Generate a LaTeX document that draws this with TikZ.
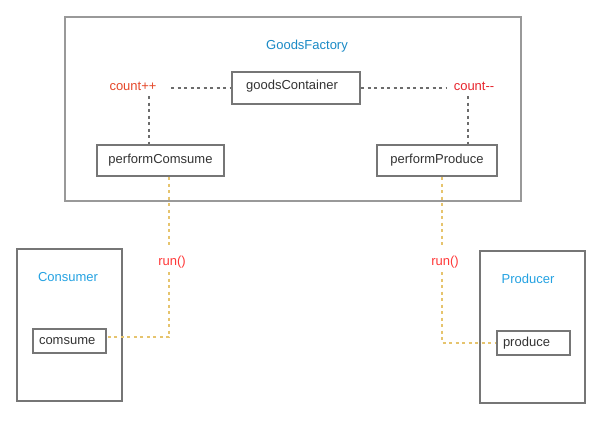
\documentclass[tikz,border=0pt]{standalone}
\usepackage{fontspec}
\setmainfont{Liberation Sans}
\begin{document}
\begin{tikzpicture}[x=1pt,y=-1pt,
  every node/.style={font=\fontsize{13}{15}\selectfont, text=txt},
  box/.style={draw=boxc, line width=2pt, rectangle, inner sep=0pt},
  outer/.style={draw=outc, line width=2pt, rectangle, inner sep=0pt},
  greydot/.style={draw=dotc, line width=2pt, dash pattern=on 3pt off 3.5pt},
  yeldot/.style={draw=yel, line width=2pt, dash pattern=on 3pt off 3.5pt},
  title/.style={text=bluea},
  title2/.style={text=blueb},
  lbl/.style={inner sep=1pt}
]
\definecolor{txt}{HTML}{333333}
\definecolor{boxc}{HTML}{767676}
\definecolor{outc}{HTML}{999999}
\definecolor{dotc}{HTML}{6C6C6C}
\definecolor{yel}{HTML}{E6C46E}
\definecolor{bluea}{HTML}{1A8AC6}
\definecolor{blueb}{HTML}{24A2E2}
\definecolor{orng}{HTML}{E5482A}
\definecolor{redd}{HTML}{E8262E}
\definecolor{runc}{HTML}{FF3838}
\useasboundingbox[fill=white] (0,0) rectangle (601,420);

% factory
\node[outer, minimum width=456pt, minimum height=184pt] (factory) at (293,109) {};
\node[title] (ftitle) at (307,46) {GoodsFactory};
\node[box, minimum width=128pt, minimum height=32pt] (container) at (296,88) {};
\node (ctext) at (292,86) {goodsContainer};
\node[lbl, text=orng] (cinc) at (133,86) {count++};
\node[lbl, text=redd] (cdec) at (474,86) {count{-}{-}};
\node[box, minimum width=127pt, minimum height=31pt] (perfC) at (160.5,160.5) {performComsume};
\node[box, minimum width=120pt, minimum height=31pt] (perfP) at (437,160.5) {performProduce};

\coordinate (ca) at (171,88);
\coordinate (cb) at (447,88);
\coordinate (cv1) at (149,96);
\coordinate (cv2) at (468,96);
\draw[greydot] (ca) -- (container.west);
\draw[greydot] (container.east) -- (cb);
\draw[greydot] (cv1) -- (cv1 |- perfC.north);
\draw[greydot] (cv2) -- (cv2 |- perfP.north);

% consumer
\node[box, minimum width=105pt, minimum height=152pt] (consumer) at (69.5,325) {};
\node[title2] (ctitle) at (68,277) {Consumer};
\node[box, minimum width=73pt, minimum height=24pt, text width=61pt, align=left, inner xsep=6pt] (comsume) at (69.5,341) {comsume};

% producer
\node[box, minimum width=105pt, minimum height=152pt] (producer) at (532.5,327) {};
\node[title2] (ptitle) at (528,279) {Producer};
\node[box, minimum width=73pt, minimum height=24pt, text width=61pt, align=left, inner xsep=6pt] (produce) at (533.5,343) {produce};

% run connectors
\node[lbl, text=runc] (runC) at (172,262) {run()};
\node[lbl, text=runc] (runP) at (445,262) {run()};
\coordinate (yc1) at (169,176);
\coordinate (yc2) at (169,248);
\coordinate (yc3) at (169,272);
\coordinate (yc4) at (169,337);
\draw[yeldot] (yc1 |- perfC.south) -- (yc2);
\draw[yeldot] (yc3) -- (yc4) -- (yc4 -| comsume.east);
\coordinate (yp1) at (442,176);
\coordinate (yp2) at (442,248);
\coordinate (yp3) at (442,272);
\coordinate (yp4) at (442,343);
\draw[yeldot] (yp1 |- perfP.south) -- (yp2);
\draw[yeldot] (yp3) -- (yp4) -- (produce.west);
\end{tikzpicture}
\end{document}
